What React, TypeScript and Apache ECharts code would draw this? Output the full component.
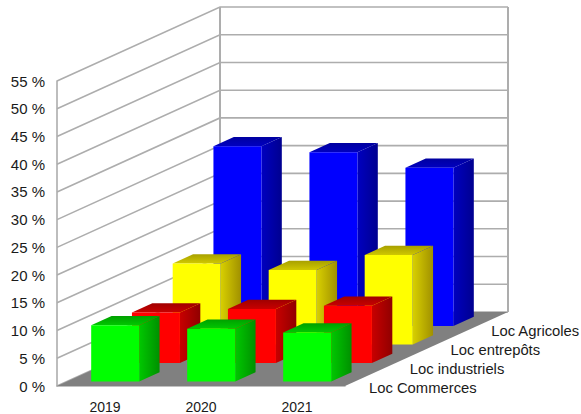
import React, { useEffect, useRef } from "react";
import * as echarts from "echarts";

const years = ["2019", "2020", "2021"];
const seriesNames = ["Loc Commerces", "Loc industriels", "Loc entrepôts", "Loc Agricoles"];
const commerces = [10.1, 9.5, 8.8];
const industriels = [9.1, 9.7, 10.3];
const entrepots = [14.6, 13.4, 16.1];
const agricoles = [32.4, 31.3, 28.5];
const yTicks = [0, 5, 10, 15, 20, 25, 30, 35, 40, 45, 50, 55];

const WIDTH = 581;
const HEIGHT = 414;
const DEPTH_X = 163;
const DEPTH_Y = 74;
const SLABS = seriesNames.length;
const WALL = "#adadad";

const palettes = [
  { front: "#00ff00", side: ["#00c800", "#009000"], top: ["#00c800", "#00a000"] },
  { front: "#ff0000", side: ["#c80000", "#900000"], top: ["#c80000", "#a00000"] },
  { front: "#ffff00", side: ["#d8d000", "#a09000"], top: ["#d0c800", "#a8a000"] },
  { front: "#0000ff", side: ["#0000c0", "#000090"], top: ["#0000c0", "#0000a0"] },
];

const grad = (a: string, b: string, horizontal: boolean) =>
  new echarts.graphic.LinearGradient(0, horizontal ? 0 : 1, horizontal ? 1 : 0, 0, [
    { offset: 0, color: a },
    { offset: 1, color: b },
  ]);

const wallSeries = {
  type: "custom",
  silent: true,
  data: yTicks.map((t) => [0, t]),
  renderItem: (params: any, api: any) => {
    const c = api.coord([0, api.value(1)]);
    const g = params.coordSys;
    return {
      type: "polyline",
      shape: {
        points: [
          [g.x, c[1]],
          [g.x + DEPTH_X, c[1] - DEPTH_Y],
          [g.x + g.width + DEPTH_X, c[1] - DEPTH_Y],
        ],
      },
      style: { stroke: WALL, lineWidth: 1.6, fill: "none" },
    };
  },
};

const frameSeries = {
  type: "custom",
  silent: true,
  data: [[0, yTicks[0]]],
  renderItem: (params: any, api: any) => {
    const g = params.coordSys;
    const y0 = api.coord([0, yTicks[0]])[1];
    const y1 = api.coord([0, yTicks[yTicks.length - 1]])[1];
    const xb = g.x + DEPTH_X;
    const xr = xb + g.width;
    return {
      type: "group",
      children: [
        {
          type: "polygon",
          shape: {
            points: [
              [g.x, y0],
              [xb, y0 - DEPTH_Y],
              [xr, y0 - DEPTH_Y],
              [g.x + g.width, y0],
            ],
          },
          style: { fill: "#808080" },
        },
        {
          type: "line",
          shape: { x1: xb, y1: y1 - DEPTH_Y, x2: xb, y2: y0 - DEPTH_Y },
          style: { stroke: WALL, lineWidth: 2 },
        },
        {
          type: "line",
          shape: { x1: xr, y1: y1 - DEPTH_Y, x2: xr, y2: y0 - DEPTH_Y },
          style: { stroke: WALL, lineWidth: 2 },
        },
      ],
    };
  },
};

const barSeries = (name: string, values: number[], slab: number) => ({
  type: "custom",
  name,
  silent: true,
  data: values.map((v, i) => [i, v]),
  renderItem: (params: any, api: any) => {
    const cat = api.value(0);
    const p = palettes[slab];
    const base = api.coord([cat, 0]);
    const top = api.coord([cat, api.value(1)]);
    const w = api.size([1, 0])[0] / 2;
    const sx = DEPTH_X / SLABS;
    const sy = DEPTH_Y / SLABS;
    const ox = (slab + 0.25) * sx;
    const oy = (slab + 0.25) * sy;
    const dx = sx / 2;
    const dy = sy / 2;
    const l = base[0] - w / 2 + ox;
    const r = l + w;
    const b = base[1] - oy;
    const t = top[1] - oy;
    return {
      type: "group",
      children: [
        {
          type: "polygon",
          shape: { points: [[r, t], [r + dx, t - dy], [r + dx, b - dy], [r, b]] },
          style: { fill: grad(p.side[0], p.side[1], true) },
        },
        {
          type: "polygon",
          shape: { points: [[l, t], [l + dx, t - dy], [r + dx, t - dy], [r, t]] },
          style: { fill: grad(p.top[0], p.top[1], false) },
        },
        {
          type: "rect",
          shape: { x: l, y: t, width: w, height: b - t },
          style: { fill: p.front },
        },
      ],
    };
  },
});

const depthLabelSeries = {
  type: "custom",
  silent: true,
  data: seriesNames.map((_, i) => [i, 0]),
  renderItem: (params: any, api: any) => {
    const g = params.coordSys;
    const y0 = api.coord([0, 0])[1];
    const i = api.value(0);
    return {
      type: "text",
      style: {
        text: seriesNames[i],
        x: g.x + g.width + (i + 0.5) * (DEPTH_X / SLABS) + 3.6,
        y: y0 - (i + 0.5) * (DEPTH_Y / SLABS) + 11.7 - i * 0.7,
        fill: "#1a1a1a",
        font: '14.8px "Liberation Sans"',
        align: "left",
        verticalAlign: "middle",
      },
    };
  },
};

export default function App() {
  const ref = useRef<HTMLDivElement>(null);
  useEffect(() => {
    const chart = echarts.init(ref.current!, null, { renderer: "svg" });
    chart.setOption({
      animation: false,
      backgroundColor: "#ffffff",
      grid: { left: 57, top: 81, width: 288, height: 306 },
      xAxis: {
        type: "category",
        data: years,
        axisLine: { show: true, lineStyle: { color: WALL, width: 1.6 } },
        axisTick: { show: false },
        axisLabel: { color: "#1a1a1a", fontFamily: "Liberation Sans", fontSize: 14, margin: 14 },
        splitLine: { show: false },
      },
      yAxis: {
        type: "value",
        min: 0,
        max: 55,
        interval: 5,
        axisLine: { show: true, lineStyle: { color: WALL, width: 1.6 } },
        axisTick: { show: false },
        axisLabel: {
          color: "#1a1a1a",
          fontFamily: "Liberation Sans",
          fontSize: 15,
          margin: 12,
          formatter: "{value} %",
        },
        splitLine: { show: false },
      },
      series: [
        wallSeries,
        frameSeries,
        barSeries(seriesNames[3], agricoles, 3),
        barSeries(seriesNames[2], entrepots, 2),
        barSeries(seriesNames[1], industriels, 1),
        barSeries(seriesNames[0], commerces, 0),
        depthLabelSeries,
      ],
    });
    return () => chart.dispose();
  }, []);
  return <div ref={ref} style={{ position: "absolute", left: 0, top: 0, width: WIDTH, height: HEIGHT }} />;
}
